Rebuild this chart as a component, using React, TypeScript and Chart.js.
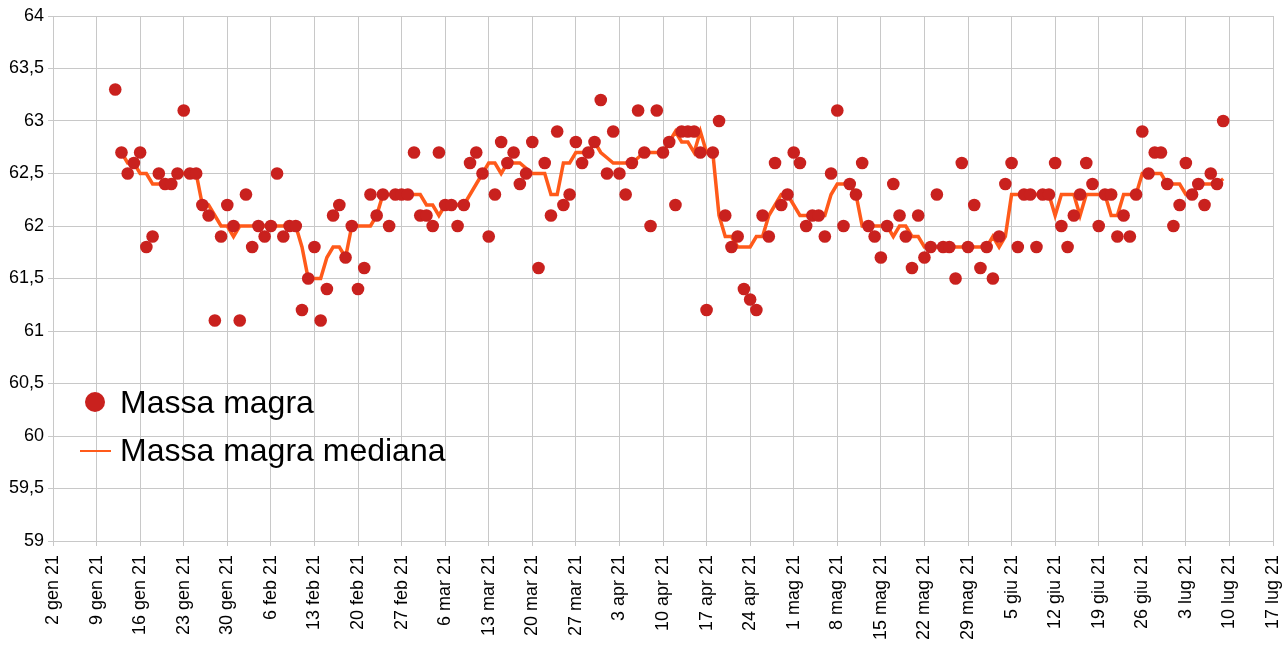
import { useEffect, useRef } from 'react';
import { Chart, registerables } from 'chart.js';

Chart.register(...registerables);

// daily readings, each month starts on the day given in *Start
const massaStart = { gen: 12, feb: 1, mar: 1, apr: 1, mag: 1, giu: 1, lug: 1 };
const massaGen = [63.3, 62.7, 62.5, 62.6, 62.7, 61.8, 61.9, 62.5, 62.4, 62.4, 62.5, 63.1, 62.5, 62.5, 62.2, 62.1, 61.1, 61.9, 62.2, 62.0];
const massaFeb = [61.1, 62.3, 61.8, 62.0, 61.9, 62.0, 62.5, 61.9, 62.0, 62.0, 61.2, 61.5, 61.8, 61.1, 61.4, 62.1, 62.2, 61.7, 62.0, 61.4, 61.6, 62.3, 62.1, 62.3, 62.0, 62.3, 62.3, 62.3];
const massaMar = [62.7, 62.1, 62.1, 62.0, 62.7, 62.2, 62.2, 62.0, 62.2, 62.6, 62.7, 62.5, 61.9, 62.3, 62.8, 62.6, 62.7, 62.4, 62.5, 62.8, 61.6, 62.6, 62.1, 62.9, 62.2, 62.3, 62.8, 62.6, 62.7, 62.8, 63.2];
const massaApr = [62.5, 62.9, 62.5, 62.3, 62.6, 63.1, 62.7, 62.0, 63.1, 62.7, 62.8, 62.2, 62.9, 62.9, 62.9, 62.7, 61.2, 62.7, 63.0, 62.1, 61.8, 61.9, 61.4, 61.3, 61.2, 62.1, 61.9, 62.6, 62.2, 62.3];
const massaMag = [62.7, 62.6, 62.0, 62.1, 62.1, 61.9, 62.5, 63.1, 62.0, 62.4, 62.3, 62.6, 62.0, 61.9, 61.7, 62.0, 62.4, 62.1, 61.9, 61.6, 62.1, 61.7, 61.8, 62.3, 61.8, 61.8, 61.5, 62.6, 61.8, 62.2, 61.6];
const massaGiu = [61.8, 61.5, 61.9, 62.4, 62.6, 61.8, 62.3, 62.3, 61.8, 62.3, 62.3, 62.6, 62.0, 61.8, 62.1, 62.3, 62.6, 62.4, 62.0, 62.3, 62.3, 61.9, 62.1, 61.9, 62.3, 62.9, 62.5, 62.7, 62.7, 62.4];
const massaLug = [62.0, 62.2, 62.6, 62.3, 62.4, 62.2, 62.5, 62.4, 63.0];

const medianaStart = { gen: 13, feb: 1, mar: 1, apr: 1, mag: 1, giu: 1, lug: 1 };
const medianaGen = [62.7, 62.6, 62.6, 62.5, 62.5, 62.4, 62.4, 62.4, 62.4, 62.5, 62.5, 62.5, 62.5, 62.2, 62.2, 62.1, 62.0, 62.0, 61.9];
const medianaFeb = [62.0, 62.0, 62.0, 62.0, 62.0, 62.0, 62.0, 62.0, 62.0, 62.0, 61.8, 61.5, 61.5, 61.5, 61.7, 61.8, 61.8, 61.7, 62.0, 62.0, 62.0, 62.0, 62.1, 62.3, 62.3, 62.3, 62.3, 62.3];
const medianaMar = [62.3, 62.3, 62.2, 62.2, 62.1, 62.2, 62.2, 62.2, 62.2, 62.3, 62.4, 62.5, 62.6, 62.6, 62.5, 62.6, 62.6, 62.6, 62.55, 62.5, 62.5, 62.5, 62.3, 62.3, 62.6, 62.6, 62.7, 62.7, 62.7, 62.8, 62.7];
const medianaApr = [62.65, 62.6, 62.6, 62.6, 62.6, 62.65, 62.7, 62.7, 62.7, 62.7, 62.8, 62.9, 62.8, 62.8, 62.7, 62.9, 62.7, 62.7, 62.1, 61.9, 61.9, 61.8, 61.8, 61.8, 61.9, 61.9, 62.1, 62.2, 62.3, 62.3];
const medianaMag = [62.2, 62.1, 62.1, 62.1, 62.1, 62.1, 62.3, 62.4, 62.4, 62.4, 62.3, 62.0, 62.0, 62.0, 62.0, 62.0, 61.9, 62.0, 62.0, 61.9, 61.9, 61.8, 61.8, 61.8, 61.8, 61.8, 61.8, 61.8, 61.8, 61.8, 61.8];
const medianaGiu = [61.8, 61.9, 61.8, 61.9, 62.3, 62.3, 62.3, 62.3, 62.3, 62.3, 62.3, 62.1, 62.3, 62.3, 62.3, 62.1, 62.3, 62.3, 62.3, 62.3, 62.1, 62.1, 62.3, 62.3, 62.3, 62.5, 62.5, 62.5, 62.5, 62.4];
const medianaLug = [62.4, 62.4, 62.3, 62.3, 62.4, 62.4, 62.4, 62.4, 62.45];

const xTickLabels = [
  '2 gen 21', '9 gen 21', '16 gen 21', '23 gen 21', '30 gen 21', '6 feb 21', '13 feb 21',
  '20 feb 21', '27 feb 21', '6 mar 21', '13 mar 21', '20 mar 21', '27 mar 21', '3 apr 21',
  '10 apr 21', '17 apr 21', '24 apr 21', '1 mag 21', '8 mag 21', '15 mag 21', '22 mag 21',
  '29 mag 21', '5 giu 21', '12 giu 21', '19 giu 21', '26 giu 21', '3 lug 21', '10 lug 21', '17 lug 21',
];

const seriesLabels = ['Massa magra', 'Massa magra mediana'];

const START = Date.UTC(2021, 0, 2);
const dayIndex = (month: number, day: number) => (Date.UTC(2021, month, day) - START) / 86400000;

function toPoints(start: Record<string, number>, months: number[][]) {
  const keys = ['gen', 'feb', 'mar', 'apr', 'mag', 'giu', 'lug'];
  const out: { x: number; y: number }[] = [];
  months.forEach((vals, m) => {
    vals.forEach((v, i) => out.push({ x: dayIndex(m, start[keys[m]] + i), y: v }));
  });
  return out;
}

const POINT_COLOR = '#c9211e';
const LINE_COLOR = '#ff5a1a';
const GRID_COLOR = '#c8c8c8';
const FONT = 'Liberation Sans, Arial, sans-serif';

const legendInside = {
  id: 'legendInside',
  afterDraw(chart: Chart) {
    const { ctx, chartArea } = chart;
    const x0 = chartArea.left;
    const y0 = chartArea.top;
    ctx.save();
    ctx.font = `32px ${FONT}`;
    ctx.textBaseline = 'middle';

    ctx.beginPath();
    ctx.fillStyle = POINT_COLOR;
    ctx.arc(x0 + 42, y0 + 386, 10, 0, Math.PI * 2);
    ctx.fill();
    ctx.fillStyle = '#000';
    ctx.fillText(seriesLabels[0], x0 + 67, y0 + 388);

    ctx.beginPath();
    ctx.strokeStyle = LINE_COLOR;
    ctx.lineWidth = 2;
    ctx.moveTo(x0 + 27, y0 + 435);
    ctx.lineTo(x0 + 58, y0 + 435);
    ctx.stroke();
    ctx.fillText(seriesLabels[1], x0 + 67, y0 + 436);
    ctx.restore();
  },
};

function MassaChart() {
  const canvasRef = useRef<HTMLCanvasElement>(null);
  const chartRef = useRef<Chart | null>(null);

  useEffect(() => {
    if (!canvasRef.current) return;
    if (chartRef.current) chartRef.current.destroy();

    chartRef.current = new Chart(canvasRef.current, {
      type: 'scatter',
      data: {
        datasets: [
          {
            label: seriesLabels[0],
            data: toPoints(massaStart, [massaGen, massaFeb, massaMar, massaApr, massaMag, massaGiu, massaLug]),
            backgroundColor: POINT_COLOR,
            borderColor: POINT_COLOR,
            borderWidth: 0,
            pointRadius: 6.3,
            showLine: false,
            order: 0,
          },
          {
            label: seriesLabels[1],
            data: toPoints(medianaStart, [medianaGen, medianaFeb, medianaMar, medianaApr, medianaMag, medianaGiu, medianaLug]),
            borderColor: LINE_COLOR,
            backgroundColor: LINE_COLOR,
            borderWidth: 3.5,
            pointRadius: 0,
            showLine: true,
            tension: 0,
            order: 1,
          },
        ],
      },
      options: {
        animation: false,
        responsive: true,
        maintainAspectRatio: false,
        layout: { padding: { top: 16, right: 14, left: 0, bottom: 0 } },
        plugins: {
          legend: { display: false },
          tooltip: { enabled: false },
        },
        scales: {
          x: {
            type: 'linear',
            min: 0,
            max: 196,
            afterFit: (s) => {
              s.height = 105;
              s.paddingLeft = 0;
              s.paddingRight = 0;
            },
            grid: { color: GRID_COLOR, tickLength: 5, lineWidth: 1 },
            border: { color: GRID_COLOR },
            ticks: {
              stepSize: 7,
              autoSkip: false,
              minRotation: 90,
              maxRotation: 90,
              padding: 9,
              color: '#000',
              font: { size: 18, family: FONT },
              callback: (value) => xTickLabels[Math.round(Number(value) / 7)] ?? '',
            },
          },
          y: {
            min: 59,
            max: 64,
            afterFit: (s) => { s.width = 53; },
            grid: { color: GRID_COLOR, tickLength: 5, lineWidth: 1 },
            border: { color: GRID_COLOR },
            ticks: {
              stepSize: 0.5,
              padding: 4,
              color: '#000',
              font: { size: 18, family: FONT },
              callback: (value) => String(value).replace('.', ','),
            },
          },
        },
      },
      plugins: [legendInside],
    });

    return () => {
      if (chartRef.current) {
        chartRef.current.destroy();
        chartRef.current = null;
      }
    };
  }, []);

  return <canvas ref={canvasRef} />;
}

export default function App() {
  useEffect(() => {
    document.body.style.margin = '0';
  }, []);
  return (
    <div style={{ position: 'relative', width: 1287, height: 646, background: '#fff' }}>
      <MassaChart />
    </div>
  );
}
